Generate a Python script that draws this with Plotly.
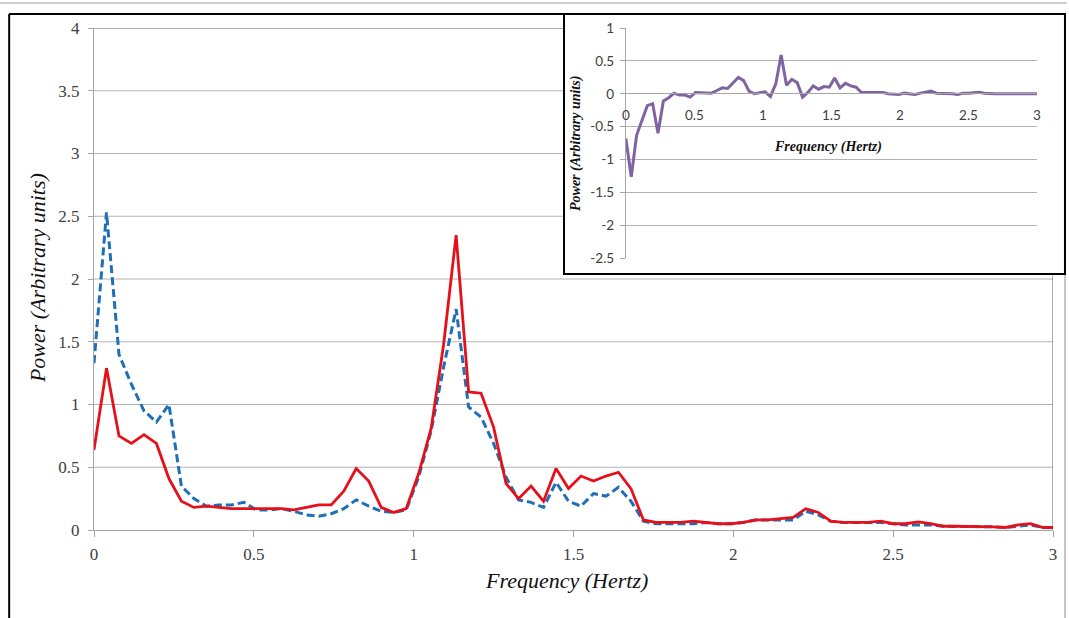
import plotly.graph_objects as go

# ---------------- data ----------------
freq_hz = [0.0, 0.0391, 0.0781, 0.1172, 0.1563, 0.1953, 0.2344, 0.2734, 0.3125, 0.3516,
           0.3906, 0.4297, 0.4688, 0.5078, 0.5469, 0.5859, 0.625, 0.6641, 0.7031, 0.7422,
           0.7813, 0.8203, 0.8594, 0.8984, 0.9375, 0.9766, 1.0156, 1.0547, 1.0938, 1.1328,
           1.1719, 1.2109, 1.25, 1.2891, 1.3281, 1.3672, 1.4063, 1.4453, 1.4844, 1.5234,
           1.5625, 1.6016, 1.6406, 1.6797, 1.7188, 1.7578, 1.7969, 1.8359, 1.875, 1.9141,
           1.9531, 1.9922, 2.0313, 2.0703, 2.1094, 2.1484, 2.1875, 2.2266, 2.2656, 2.3047,
           2.3438, 2.3828, 2.4219, 2.4609, 2.5, 2.5391, 2.5781, 2.6172, 2.6563, 2.6953,
           2.7344, 2.7734, 2.8125, 2.8516, 2.8906, 2.9297, 2.9688, 3.0078]

power_red = [0.64, 1.29, 0.75, 0.69, 0.76, 0.69, 0.41, 0.23, 0.18, 0.19,
             0.18, 0.17, 0.17, 0.17, 0.17, 0.17, 0.16, 0.18, 0.20, 0.20,
             0.31, 0.49, 0.39, 0.18, 0.14, 0.17, 0.45, 0.81, 1.48, 2.35,
             1.10, 1.09, 0.82, 0.37, 0.25, 0.35, 0.23, 0.49, 0.33, 0.43,
             0.39, 0.43, 0.46, 0.33, 0.08, 0.06, 0.06, 0.06, 0.07, 0.06,
             0.05, 0.05, 0.06, 0.08, 0.08, 0.09, 0.10, 0.17, 0.14, 0.07,
             0.06, 0.06, 0.06, 0.07, 0.05, 0.05, 0.065, 0.05, 0.03, 0.03,
             0.03, 0.025, 0.025, 0.02, 0.04, 0.05, 0.02, 0.02]

power_blue = [1.33, 2.53, 1.40, 1.16, 0.95, 0.86, 1.00, 0.35, 0.25, 0.19,
              0.20, 0.20, 0.22, 0.16, 0.16, 0.17, 0.15, 0.12, 0.11, 0.13,
              0.17, 0.24, 0.19, 0.15, 0.14, 0.16, 0.42, 0.79, 1.30, 1.76,
              0.98, 0.90, 0.69, 0.42, 0.24, 0.22, 0.18, 0.38, 0.23, 0.19,
              0.29, 0.27, 0.34, 0.23, 0.07, 0.05, 0.05, 0.05, 0.05, 0.06,
              0.05, 0.05, 0.06, 0.08, 0.08, 0.08, 0.08, 0.15, 0.12, 0.07,
              0.06, 0.06, 0.06, 0.06, 0.05, 0.04, 0.04, 0.04, 0.03, 0.03,
              0.03, 0.025, 0.025, 0.02, 0.03, 0.04, 0.02, 0.02]

power_diff = [-0.68, -1.26, -0.63, -0.42, -0.18, -0.15, -0.60, -0.11, -0.06, 0.01,
              -0.02, -0.02, -0.05, 0.02, 0.02, 0.02, 0.01, 0.05, 0.09, 0.08,
              0.16, 0.25, 0.20, 0.04, 0.00, 0.01, 0.03, -0.04, 0.15, 0.59,
              0.13, 0.22, 0.17, -0.05, 0.02, 0.12, 0.07, 0.11, 0.10, 0.24,
              0.09, 0.16, 0.12, 0.10, 0.02, 0.02, 0.02, 0.01, 0.02, 0.00,
              0.00, -0.01, 0.01, 0.00, -0.01, 0.01, 0.02, 0.04, 0.01, 0.01,
              0.00, 0.00, -0.01, 0.01, 0.01, 0.02, 0.025, 0.01, 0.00, 0.00,
              0.00, 0.00, 0.00, 0.00, 0.01, 0.01, 0.00, 0.00]

main_x_ticks = [0, 0.5, 1, 1.5, 2, 2.5, 3]
main_x_labels = ["0", "0.5", "1", "1.5", "2", "2.5", "3"]
main_y_ticks = [0, 0.5, 1, 1.5, 2, 2.5, 3, 3.5, 4]
main_y_labels = ["0", "0.5", "1", "1.5", "2", "2.5", "3", "3.5", "4"]
inset_y_ticks = [1, 0.5, 0, -0.5, -1, -1.5, -2, -2.5]
inset_y_labels = ["1", "0.5", "0", "-0.5", "-1", "-1.5", "-2", "-2.5"]

x_title = "Frequency (Hertz)"
y_title = "Power (Arbitrary units)"

# ---------------- layout geometry ----------------
W, H = 1069, 618
L, R, T, B = 94, 14, 28, 88
PW, PH = W - L - R, H - T - B


def px(xp):
    return (xp - L) / PW


def py(yp):
    return (H - B - yp) / PH


SERIF = "Liberation Serif"
SANS = "Lato"
GRID = "#b3b3b3"
AXIS = "#a6a6a6"
FRAME = "#5a5a5a"

fig = go.Figure()

fig.add_trace(go.Scatter(x=freq_hz, y=power_blue, mode="lines",
                         line=dict(color="#1F6FB6", width=3, dash="8px,4px"),
                         showlegend=False, xaxis="x", yaxis="y"))
fig.add_trace(go.Scatter(x=freq_hz, y=power_red, mode="lines",
                         line=dict(color="#E5101A", width=2.8),
                         showlegend=False, xaxis="x", yaxis="y"))
fig.add_trace(go.Scatter(x=freq_hz, y=power_diff, mode="lines",
                         line=dict(color="#8064A2", width=3),
                         showlegend=False, xaxis="x2", yaxis="y2"))

shapes = []
# main horizontal gridlines
for v in main_y_ticks[1:-1]:
    shapes.append(dict(type="line", layer="below", xref="paper", yref="y",
                       x0=0, x1=1, y0=v, y1=v, line=dict(color=GRID, width=1)))
# plot area top / right border
shapes.append(dict(type="line", layer="below", xref="paper", yref="y",
                   x0=0, x1=1, y0=main_y_ticks[-1], y1=main_y_ticks[-1],
                   line=dict(color=FRAME, width=1)))
shapes.append(dict(type="line", layer="below", xref="x", yref="paper",
                   x0=main_x_ticks[-1], x1=main_x_ticks[-1], y0=0, y1=1,
                   line=dict(color=FRAME, width=1)))
# inset box (white, covers main grid)
shapes.append(dict(type="rect", layer="below", xref="paper", yref="paper",
                   x0=px(565), x1=px(1067), y0=py(274), y1=py(14),
                   fillcolor="white", line=dict(color="black", width=2)))
# outer chart frame
shapes.append(dict(type="line", layer="below", xref="paper", yref="paper",
                   x0=px(9), x1=px(9), y0=py(14), y1=py(630),
                   line=dict(color="black", width=2)))
shapes.append(dict(type="line", layer="below", xref="paper", yref="paper",
                   x0=px(9), x1=px(566), y0=py(14), y1=py(14),
                   line=dict(color="black", width=2)))
shapes.append(dict(type="line", layer="below", xref="paper", yref="paper",
                   x0=px(1067), x1=px(1067), y0=py(275), y1=py(630),
                   line=dict(color="#c4c4c4", width=2)))
shapes.append(dict(type="line", layer="below", xref="paper", yref="paper",
                   x0=px(0), x1=px(1069), y0=py(3), y1=py(3),
                   line=dict(color="#cfcfcf", width=2)))

annotations = [
    dict(text=x_title, xref="paper", yref="paper", x=px(567), y=py(580),
         showarrow=False, xanchor="center", yanchor="middle",
         font=dict(family=SERIF, size=22, color="#111111", style="italic")),
    dict(text=y_title, xref="paper", yref="paper", x=px(37), y=py(278),
         showarrow=False, xanchor="center", yanchor="middle", textangle=-90,
         font=dict(family=SERIF, size=22, color="#111111", style="italic")),
    dict(text=x_title, xref="paper", yref="paper", x=px(830), y=py(147),
         showarrow=False, xanchor="center", yanchor="middle",
         font=dict(family=SERIF, size=14, color="#111111", style="italic", weight="bold")),
    dict(text=y_title, xref="paper", yref="paper", x=px(577), y=py(143),
         showarrow=False, xanchor="center", yanchor="middle", textangle=-90,
         font=dict(family=SERIF, size=14, color="#111111", style="italic", weight="bold")),
]

fig.update_layout(
    width=W, height=H, autosize=False,
    margin=dict(l=L, r=R, t=T, b=B, pad=0),
    paper_bgcolor="white", plot_bgcolor="white",
    showlegend=False,
    shapes=shapes, annotations=annotations,
    xaxis=dict(domain=[0, 1], range=[0, 3], showgrid=False, zeroline=False,
               showline=True, linecolor=AXIS, linewidth=1,
               ticks="outside", ticklen=6, tickcolor=AXIS,
               tickvals=main_x_ticks, ticktext=main_x_labels,
               ticklabelstandoff=3,
               tickfont=dict(family=SERIF, size=17, color="#404040")),
    yaxis=dict(domain=[0, 1], range=[0, 4], showgrid=False, zeroline=False,
               showline=True, linecolor=AXIS, linewidth=1,
               ticks="outside", ticklen=5, tickcolor=AXIS,
               tickvals=main_y_ticks, ticktext=main_y_labels,
               ticklabelstandoff=5,
               tickfont=dict(family=SERIF, size=17, color="#404040")),
    xaxis2=dict(domain=[px(627), px(1039)], range=[0, 3], anchor="free",
                position=py(93.3), showgrid=False, zeroline=False,
                showline=True, linecolor=AXIS, linewidth=1, ticks="",
                tickvals=main_x_ticks, ticktext=main_x_labels,
                ticklabelstandoff=9,
                tickfont=dict(family=SANS, size=13.5, color="#404040")),
    yaxis2=dict(domain=[py(258.3), 1.0], range=[-2.5, 1], anchor="x2",
                showgrid=True, gridcolor=GRID, gridwidth=1, zeroline=False,
                showline=True, linecolor=AXIS, linewidth=1,
                ticks="outside", ticklen=5, tickcolor=AXIS,
                tickvals=inset_y_ticks, ticktext=inset_y_labels,
                ticklabelstandoff=3,
                tickfont=dict(family=SANS, size=13.5, color="#404040")),
)

fig.write_html("out.html")
